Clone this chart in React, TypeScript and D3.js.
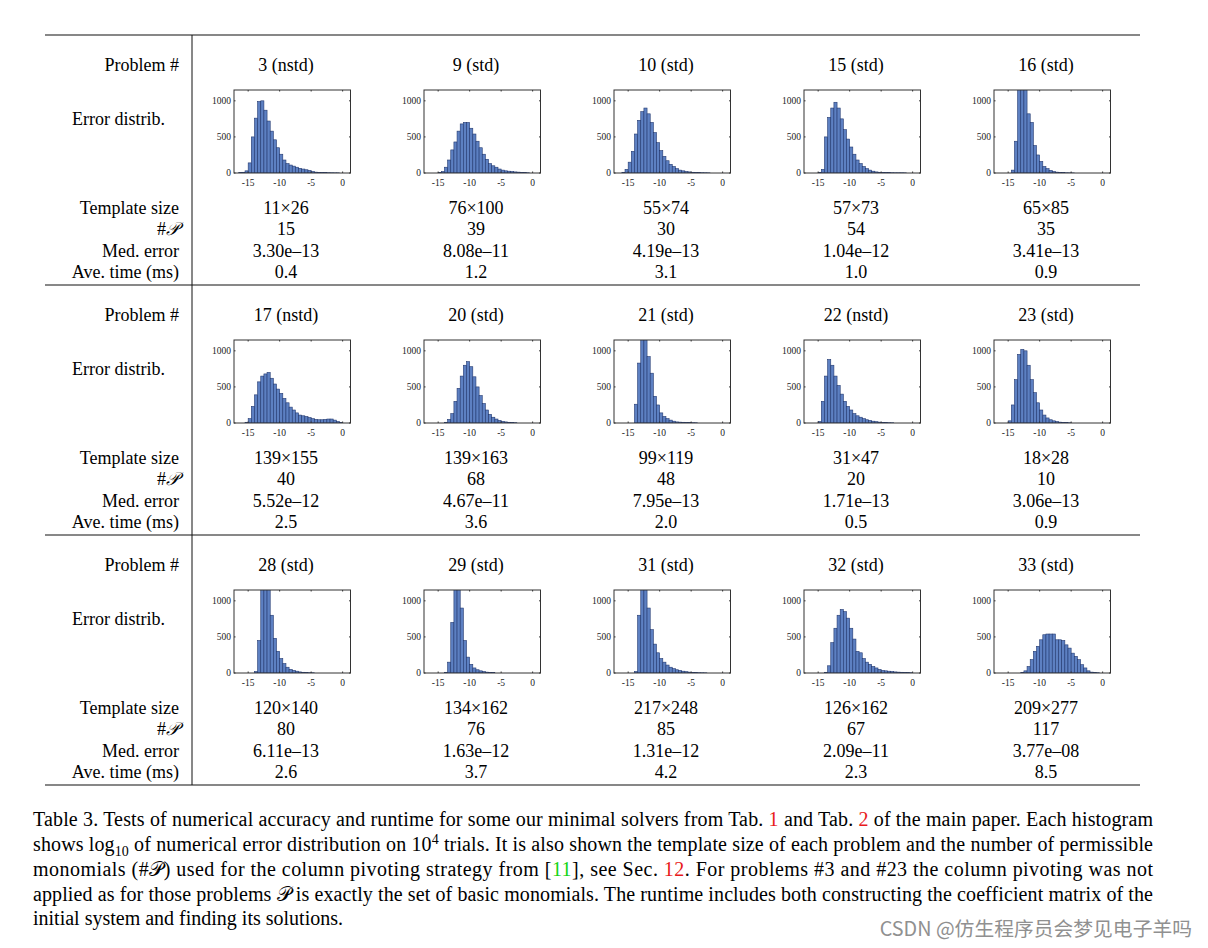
import React from "react";
import * as d3 from "d3";

const problemLabels = ["3 (nstd)", "9 (std)", "10 (std)", "15 (std)", "16 (std)", "17 (nstd)", "20 (std)", "21 (std)", "22 (nstd)", "23 (std)", "28 (std)", "29 (std)", "31 (std)", "32 (std)", "33 (std)"];
const templateSizes = ["11×26", "76×100", "55×74", "57×73", "65×85", "139×155", "139×163", "99×119", "31×47", "18×28", "120×140", "134×162", "217×248", "126×162", "209×277"];
const numP = ["15", "39", "30", "54", "35", "40", "68", "48", "20", "10", "80", "76", "85", "67", "117"];
const medError = ["3.30e–13", "8.08e–11", "4.19e–13", "1.04e–12", "3.41e–13", "5.52e–12", "4.67e–11", "7.95e–13", "1.71e–13", "3.06e–13", "6.11e–13", "1.63e–12", "1.31e–12", "2.09e–11", "3.77e–08"];
const aveTime = ["0.4", "1.2", "3.1", "1.0", "0.9", "2.5", "3.6", "2.0", "0.5", "0.9", "2.6", "3.7", "4.2", "2.3", "8.5"];
const rowLabels = ["Template size", "#𝒫", "Med. error", "Ave. time (ms)"];

// first bin left edge (log10 error), bins of width 0.5
const binStarts = [-16.5, -15, -16, -15, -14.5, -15.5, -14, -14, -15, -15, -14, -14, -14, -14, -13];
const hist3 = [5, 10, 30, 140, 500, 760, 990, 1000, 870, 720, 580, 460, 350, 260, 180, 130, 110, 95, 80, 65, 55, 45, 35, 20, 12, 8, 6, 5, 4, 3, 2, 2];
const hist9 = [5, 20, 80, 180, 320, 430, 580, 680, 700, 700, 620, 540, 440, 350, 260, 190, 130, 100, 80, 55, 40, 30, 25, 20, 15, 12, 8, 5, 3];
const hist10 = [10, 50, 150, 300, 540, 730, 850, 900, 820, 700, 560, 420, 310, 230, 170, 120, 90, 60, 40, 30, 20, 15, 10, 8, 6, 4, 3, 2];
const hist15 = [10, 50, 500, 770, 900, 980, 900, 750, 600, 470, 360, 260, 180, 130, 90, 60, 40, 25, 15, 10, 8, 6, 5, 4, 3, 3, 3, 2];
const hist16 = [40, 440, 1300, 1500, 1200, 820, 700, 380, 250, 160, 90, 60, 35, 20, 12, 8, 5, 3, 2, 1];
const hist17 = [10, 60, 230, 390, 570, 650, 680, 700, 620, 540, 470, 410, 340, 280, 220, 180, 140, 110, 100, 90, 75, 60, 50, 45, 45, 50, 55, 55, 40, 20, 5];
const hist20 = [10, 50, 130, 300, 480, 650, 800, 850, 780, 640, 500, 380, 270, 180, 120, 80, 55, 35, 22, 15, 10, 6, 4];
const hist21 = [260, 830, 1500, 1500, 920, 690, 370, 250, 140, 90, 60, 40, 25, 15, 12, 10, 8, 6, 4, 3];
const hist22 = [20, 300, 650, 880, 800, 650, 520, 400, 300, 230, 180, 130, 100, 80, 60, 45, 35, 25, 18, 12, 8, 5, 4, 3];
const hist23 = [30, 250, 600, 950, 1020, 1000, 800, 600, 420, 280, 180, 110, 70, 45, 30, 20, 12, 8, 5, 3];
const hist28 = [20, 450, 1500, 1900, 1300, 800, 480, 300, 200, 130, 80, 50, 35, 25, 15, 10, 6, 4, 3];
const hist29 = [10, 150, 700, 1600, 1600, 900, 450, 220, 120, 70, 45, 30, 20, 12, 8, 5];
const hist31 = [20, 800, 1800, 1400, 900, 600, 400, 280, 200, 150, 110, 80, 60, 45, 35, 25, 18, 12, 8, 5, 4, 3, 2];
const hist32 = [10, 100, 420, 620, 800, 880, 850, 760, 620, 470, 300, 280, 200, 150, 120, 90, 70, 50, 35, 30, 25, 20, 15, 12, 10, 8, 6, 4];
const hist33 = [5, 30, 90, 185, 300, 370, 460, 530, 540, 540, 540, 460, 460, 450, 390, 345, 275, 230, 185, 115, 70, 30, 12, 8, 4];
const histCounts = [hist3, hist9, hist10, hist15, hist16, hist17, hist20, hist21, hist22, hist23, hist28, hist29, hist31, hist32, hist33];

const xTicks = [-15, -10, -5, 0];
const yTicks = [0, 500, 1000];

const SERIF = "'Liberation Serif', 'DejaVu Serif', serif";
const colCenters = [286, 476, 666, 856, 1046];
const rowTops = [35, 285, 535];

function Hist({ cx, top, idx }: { cx: number; top: number; idx: number }) {
  const x0 = cx - 52;
  const w = 116.5;
  const h = 83;
  const xs = d3.scaleLinear().domain([-17.25, 1.25]).range([x0, x0 + w]);
  const ys = d3.scaleLinear().domain([0, 1150]).range([top + h, top]);
  const counts = histCounts[idx];
  const start = binStarts[idx];
  const cid = `clip${idx}`;
  return (
    <g>
      <defs>
        <clipPath id={cid}>
          <rect x={x0} y={top} width={w} height={h} />
        </clipPath>
      </defs>
      <g clipPath={`url(#${cid})`}>
        {counts.map((c, i) => {
          const a = xs(start + i * 0.5);
          const b = xs(start + (i + 1) * 0.5);
          return (
            <rect key={i} x={a} y={ys(c)} width={b - a} height={ys(0) - ys(c)}
              fill="#5d80c2" stroke="#22386f" strokeWidth={0.6} />
          );
        })}
      </g>
      <rect x={x0} y={top} width={w} height={h} fill="none" stroke="#333" strokeWidth={1} />
      {xTicks.map((t) => (
        <g key={t}>
          <line x1={xs(t)} x2={xs(t)} y1={top + h} y2={top + h - 1.5} stroke="#333" />
          <line x1={xs(t)} x2={xs(t)} y1={top} y2={top + 1.5} stroke="#333" />
          <text x={xs(t)} y={top + h + 13} fontSize={9.5} textAnchor="middle" fontFamily={SERIF} fill="#222">{t === 0 ? "0" : `-${-t}`}</text>
        </g>
      ))}
      {yTicks.map((t) => (
        <g key={t}>
          <line x1={x0} x2={x0 + 1.5} y1={ys(t)} y2={ys(t)} stroke="#333" />
          <line x1={x0 + w} x2={x0 + w - 1.5} y1={ys(t)} y2={ys(t)} stroke="#333" />
          <text x={x0 - 3} y={ys(t) + 3.3} fontSize={9.5} textAnchor="end" fontFamily={SERIF} fill="#222">{t}</text>
        </g>
      ))}
    </g>
  );
}

const RED = "#e8191b";
const GREEN = "#14d414";

export default function App() {
  const fs = 18;
  const rowYs = [173, 194, 216, 237];
  return (
    <svg width={1208} height={948} style={{ position: "absolute", left: 0, top: 0, background: "#fff" }}>
      <rect width={1208} height={948} fill="#fff" />
      <line x1={45} x2={1140} y1={35} y2={35} stroke="#111" strokeWidth={1.2} />
      <line x1={45} x2={1140} y1={285} y2={285} stroke="#111" strokeWidth={1} />
      <line x1={45} x2={1140} y1={535} y2={535} stroke="#111" strokeWidth={1} />
      <line x1={45} x2={1140} y1={785} y2={785} stroke="#111" strokeWidth={1.2} />
      <line x1={192} x2={192} y1={35} y2={785} stroke="#111" strokeWidth={1} />
      {rowTops.map((y0, r) => (
        <g key={r} fontFamily={SERIF} fontSize={fs} fill="#000">
          <text x={179} y={y0 + 30 + 6} textAnchor="end">Problem #</text>
          <text x={165} y={y0 + 84 + 6} textAnchor="end">Error distrib.</text>
          {rowLabels.map((l, k) => (
            <text key={k} x={179} y={y0 + rowYs[k] + 6} textAnchor="end">
              {k === 1 ? (<>#<tspan fontStyle="italic" fontWeight="normal">𝒫</tspan></>) : l}
            </text>
          ))}
          {colCenters.map((cx, c) => {
            const idx = r * 5 + c;
            return (
              <g key={c}>
                <text x={cx} y={y0 + 30 + 6} textAnchor="middle">{problemLabels[idx]}</text>
                <Hist cx={cx} top={y0 + 55} idx={idx} />
                {[templateSizes[idx], numP[idx], medError[idx], aveTime[idx]].map((v, k) => (
                  <text key={k} x={cx} y={y0 + rowYs[k] + 6} textAnchor="middle">{v}</text>
                ))}
              </g>
            );
          })}
        </g>
      ))}
      <g fontFamily={SERIF} fontSize={20} fill="#000">
        <text x={33} y={826} textLength={1120} lengthAdjust="spacing">
          Table 3. Tests of numerical accuracy and runtime for some our minimal solvers from Tab. <tspan fill={RED}>1</tspan> and Tab. <tspan fill={RED}>2</tspan> of the main paper. Each histogram
        </text>
        <text x={33} y={851} textLength={1120} lengthAdjust="spacing">
          shows log<tspan dy={5} fontSize={14}>10</tspan><tspan dy={-5}> of numerical error distribution on 10</tspan><tspan dy={-7} fontSize={14}>4</tspan><tspan dy={7}> trials. It is also shown the template size of each problem and the number of permissible</tspan>
        </text>
        <text x={33} y={876} textLength={1120} lengthAdjust="spacing">
          monomials (#𝒫) used for the column pivoting strategy from [<tspan fill={GREEN}>11</tspan>], see Sec. <tspan fill={RED}>12</tspan>.  For problems #3 and #23 the column pivoting was not
        </text>
        <text x={33} y={901} textLength={1120} lengthAdjust="spacing">
          applied as for those problems 𝒫 is exactly the set of basic monomials. The runtime includes both constructing the coefficient matrix of the
        </text>
        <text x={33} y={925}>initial system and finding its solutions.</text>
      </g>
      <text x={1192} y={936} textAnchor="end" fontSize={19.8} fontFamily="'Noto Sans CJK SC', sans-serif" fill="#909090">CSDN @仿生程序员会梦见电子羊吗</text>
    </svg>
  );
}
